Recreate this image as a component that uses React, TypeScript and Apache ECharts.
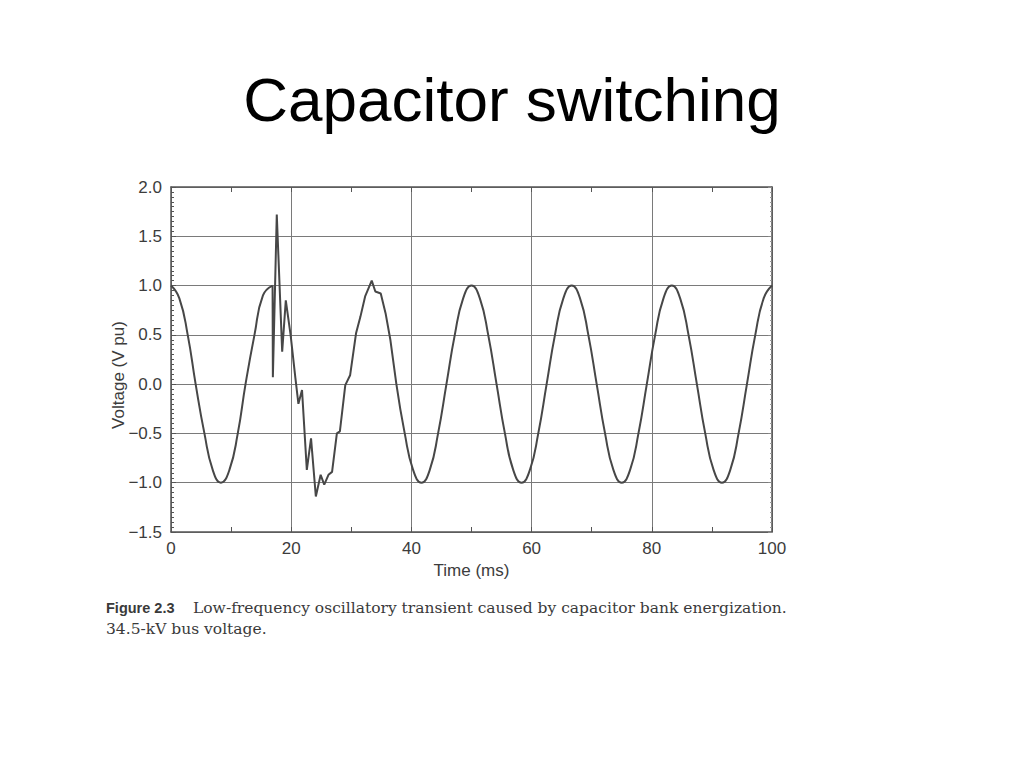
import React, { useEffect, useRef } from "react";
import * as echarts from "echarts";

// Steady-state before switching (smooth)
const preTime = [0, 1.39, 2.78, 4.1, 5.56, 6.94, 8.3, 9.72, 11.11, 12.4, 13.89, 15.3, 16.9];
const preVolt = [1.0, 0.87, 0.5, 0.0, -0.5, -0.87, -1.0, -0.87, -0.5, 0.0, 0.5, 0.9, 1.0];

// Switching transient (sharp)
const transTime = [16.9, 16.95, 17.6, 18.5, 19.1, 19.9, 20.7, 21.2, 21.8, 22.6, 23.3, 24.1, 24.9, 25.5, 26.2, 26.8, 27.6, 28.1, 29.0, 29.8, 30.8, 31.5, 32.3, 33.4, 34.0, 34.9, 35.7, 36.5, 37.5];
const transVolt = [1.0, 0.07, 1.72, 0.33, 0.85, 0.5, 0.06, -0.2, -0.06, -0.87, -0.55, -1.14, -0.92, -1.02, -0.92, -0.89, -0.5, -0.48, -0.01, 0.09, 0.52, 0.68, 0.89, 1.05, 0.94, 0.92, 0.72, 0.45, 0.0];

// Steady-state after switching (smooth)
const postTime = [37.5, 38.89, 40.28, 41.67, 43.06, 44.44, 45.83, 47.22, 48.61, 50.0, 51.39, 52.78, 54.17, 55.56, 56.94, 58.33, 59.72, 61.11, 62.5, 63.89, 65.28, 66.67, 68.06, 69.44, 70.83, 72.22, 73.61, 75.0, 76.39, 77.78, 79.17, 80.56, 81.94, 83.33, 84.72, 86.11, 87.5, 88.89, 90.28, 91.67, 93.06, 94.44, 95.83, 97.22, 98.61, 100.0];
const postVolt = [0.0, -0.5, -0.87, -1.0, -0.87, -0.5, 0.0, 0.5, 0.87, 1.0, 0.87, 0.5, 0.0, -0.5, -0.87, -1.0, -0.87, -0.5, 0.0, 0.5, 0.87, 1.0, 0.87, 0.5, 0.0, -0.5, -0.87, -1.0, -0.87, -0.5, 0.0, 0.5, 0.87, 1.0, 0.87, 0.5, 0.0, -0.5, -0.87, -1.0, -0.87, -0.5, 0.0, 0.5, 0.87, 1.0];

const title = "Capacitor switching";
const xName = "Time (ms)";
const yName = "Voltage (V pu)";
const captionLabel = "Figure 2.3";
const captionLine1 = "Low-frequency oscillatory transient caused by capacitor bank energization.";
const captionLine2 = "34.5-kV bus voltage.";

const zip = (t: number[], v: number[]) => t.map((x, i) => [x, v[i]]);

export default function App() {
  const ref = useRef<HTMLDivElement>(null);
  useEffect(() => {
    if (!ref.current) return;
    const chart = echarts.init(ref.current, null, { renderer: "svg" });
    const axisColor = "#555";
    const gridColor = "#7a7a7a";
    const labelColor = "#3c3c3c";
    const font = "Liberation Sans";
    const lineStyle = { color: "#474747", width: 2 };
    const common = {
      type: "value",
      axisLine: { show: true, onZero: false, lineStyle: { color: axisColor, width: 1.5 } },
    };
    chart.setOption({
      animation: false,
      backgroundColor: "#ffffff",
      grid: { left: 171, right: 252, top: 187, bottom: 236, containLabel: false },
      xAxis: [
        {
          ...common,
          position: "bottom",
          min: 0,
          max: 100,
          interval: 20,
          axisTick: { show: true, inside: true, length: 5, lineStyle: { color: axisColor } },
          minorTick: { show: true, splitNumber: 2, length: 5, lineStyle: { color: axisColor } },
          splitLine: { show: true, lineStyle: { color: gridColor, width: 1 } },
          axisLabel: { color: labelColor, fontSize: 17, fontFamily: font, margin: 8 },
          name: xName,
          nameLocation: "middle",
          nameGap: 30,
          nameTextStyle: { color: labelColor, fontSize: 17, fontFamily: font },
        },
        {
          ...common,
          position: "top",
          min: 0,
          max: 100,
          interval: 20,
          axisTick: { show: true, inside: true, length: 5, lineStyle: { color: axisColor } },
          minorTick: { show: true, splitNumber: 2, length: 5, lineStyle: { color: axisColor } },
          splitLine: { show: false },
          axisLabel: { show: false },
        },
      ],
      yAxis: [
        {
          ...common,
          position: "left",
          min: -1.5,
          max: 2.0,
          interval: 0.5,
          axisTick: { show: true, inside: true, length: 5, lineStyle: { color: axisColor } },
          minorTick: { show: true, splitNumber: 10, length: 3, lineStyle: { color: axisColor } },
          splitLine: { show: true, lineStyle: { color: gridColor, width: 1 } },
          axisLabel: {
            color: labelColor,
            fontSize: 17,
            fontFamily: font,
            margin: 9,
            formatter: (v: number) => v.toFixed(1).replace("-", "\u2212"),
          },
        },
        {
          ...common,
          position: "right",
          min: -1.5,
          max: 2.0,
          interval: 0.5,
          axisTick: { show: true, inside: true, length: 4, lineStyle: { color: "#888" } },
          minorTick: { show: true, splitNumber: 10, length: 2, lineStyle: { color: "#999" } },
          splitLine: { show: false },
          axisLabel: { show: false },
        },
      ],
      series: [
        { type: "line", data: zip(preTime, preVolt), smooth: 0.5, showSymbol: false, lineStyle, silent: true },
        { type: "line", data: zip(transTime, transVolt), smooth: false, showSymbol: false, lineStyle, silent: true },
        { type: "line", data: zip(postTime, postVolt), smooth: 0.5, showSymbol: false, lineStyle, silent: true },
      ],
      graphic: [
        {
          type: "text",
          x: 512,
          y: 99,
          style: { text: title, fontSize: 62, fontFamily: font, fill: "#000", textAlign: "center", textVerticalAlign: "middle" },
        },
        {
          type: "text",
          x: 118,
          y: 375,
          rotation: Math.PI / 2,
          style: { text: yName, fontSize: 17, fontFamily: font, fill: labelColor, textAlign: "center", textVerticalAlign: "middle" },
        },
        {
          type: "text",
          x: 106,
          y: 608,
          style: {
            text: `{b|${captionLabel}}{s|${captionLine1}}`,
            textVerticalAlign: "middle",
            rich: {
              b: { fontFamily: font, fontWeight: "bold", fontSize: 14.5, fill: "#3a3a3a", width: 87 },
              s: { fontFamily: "DejaVu Serif", fontSize: 15.5, fill: "#3a3a3a" },
            },
          },
        },
        {
          type: "text",
          x: 106,
          y: 629,
          style: { text: captionLine2, fontFamily: "DejaVu Serif", fontSize: 15.5, fill: "#3a3a3a", textVerticalAlign: "middle" },
        },
      ],
    });
    return () => chart.dispose();
  }, []);
  return <div ref={ref} style={{ position: "fixed", left: 0, top: 0, width: 1024, height: 768 }} />;
}
